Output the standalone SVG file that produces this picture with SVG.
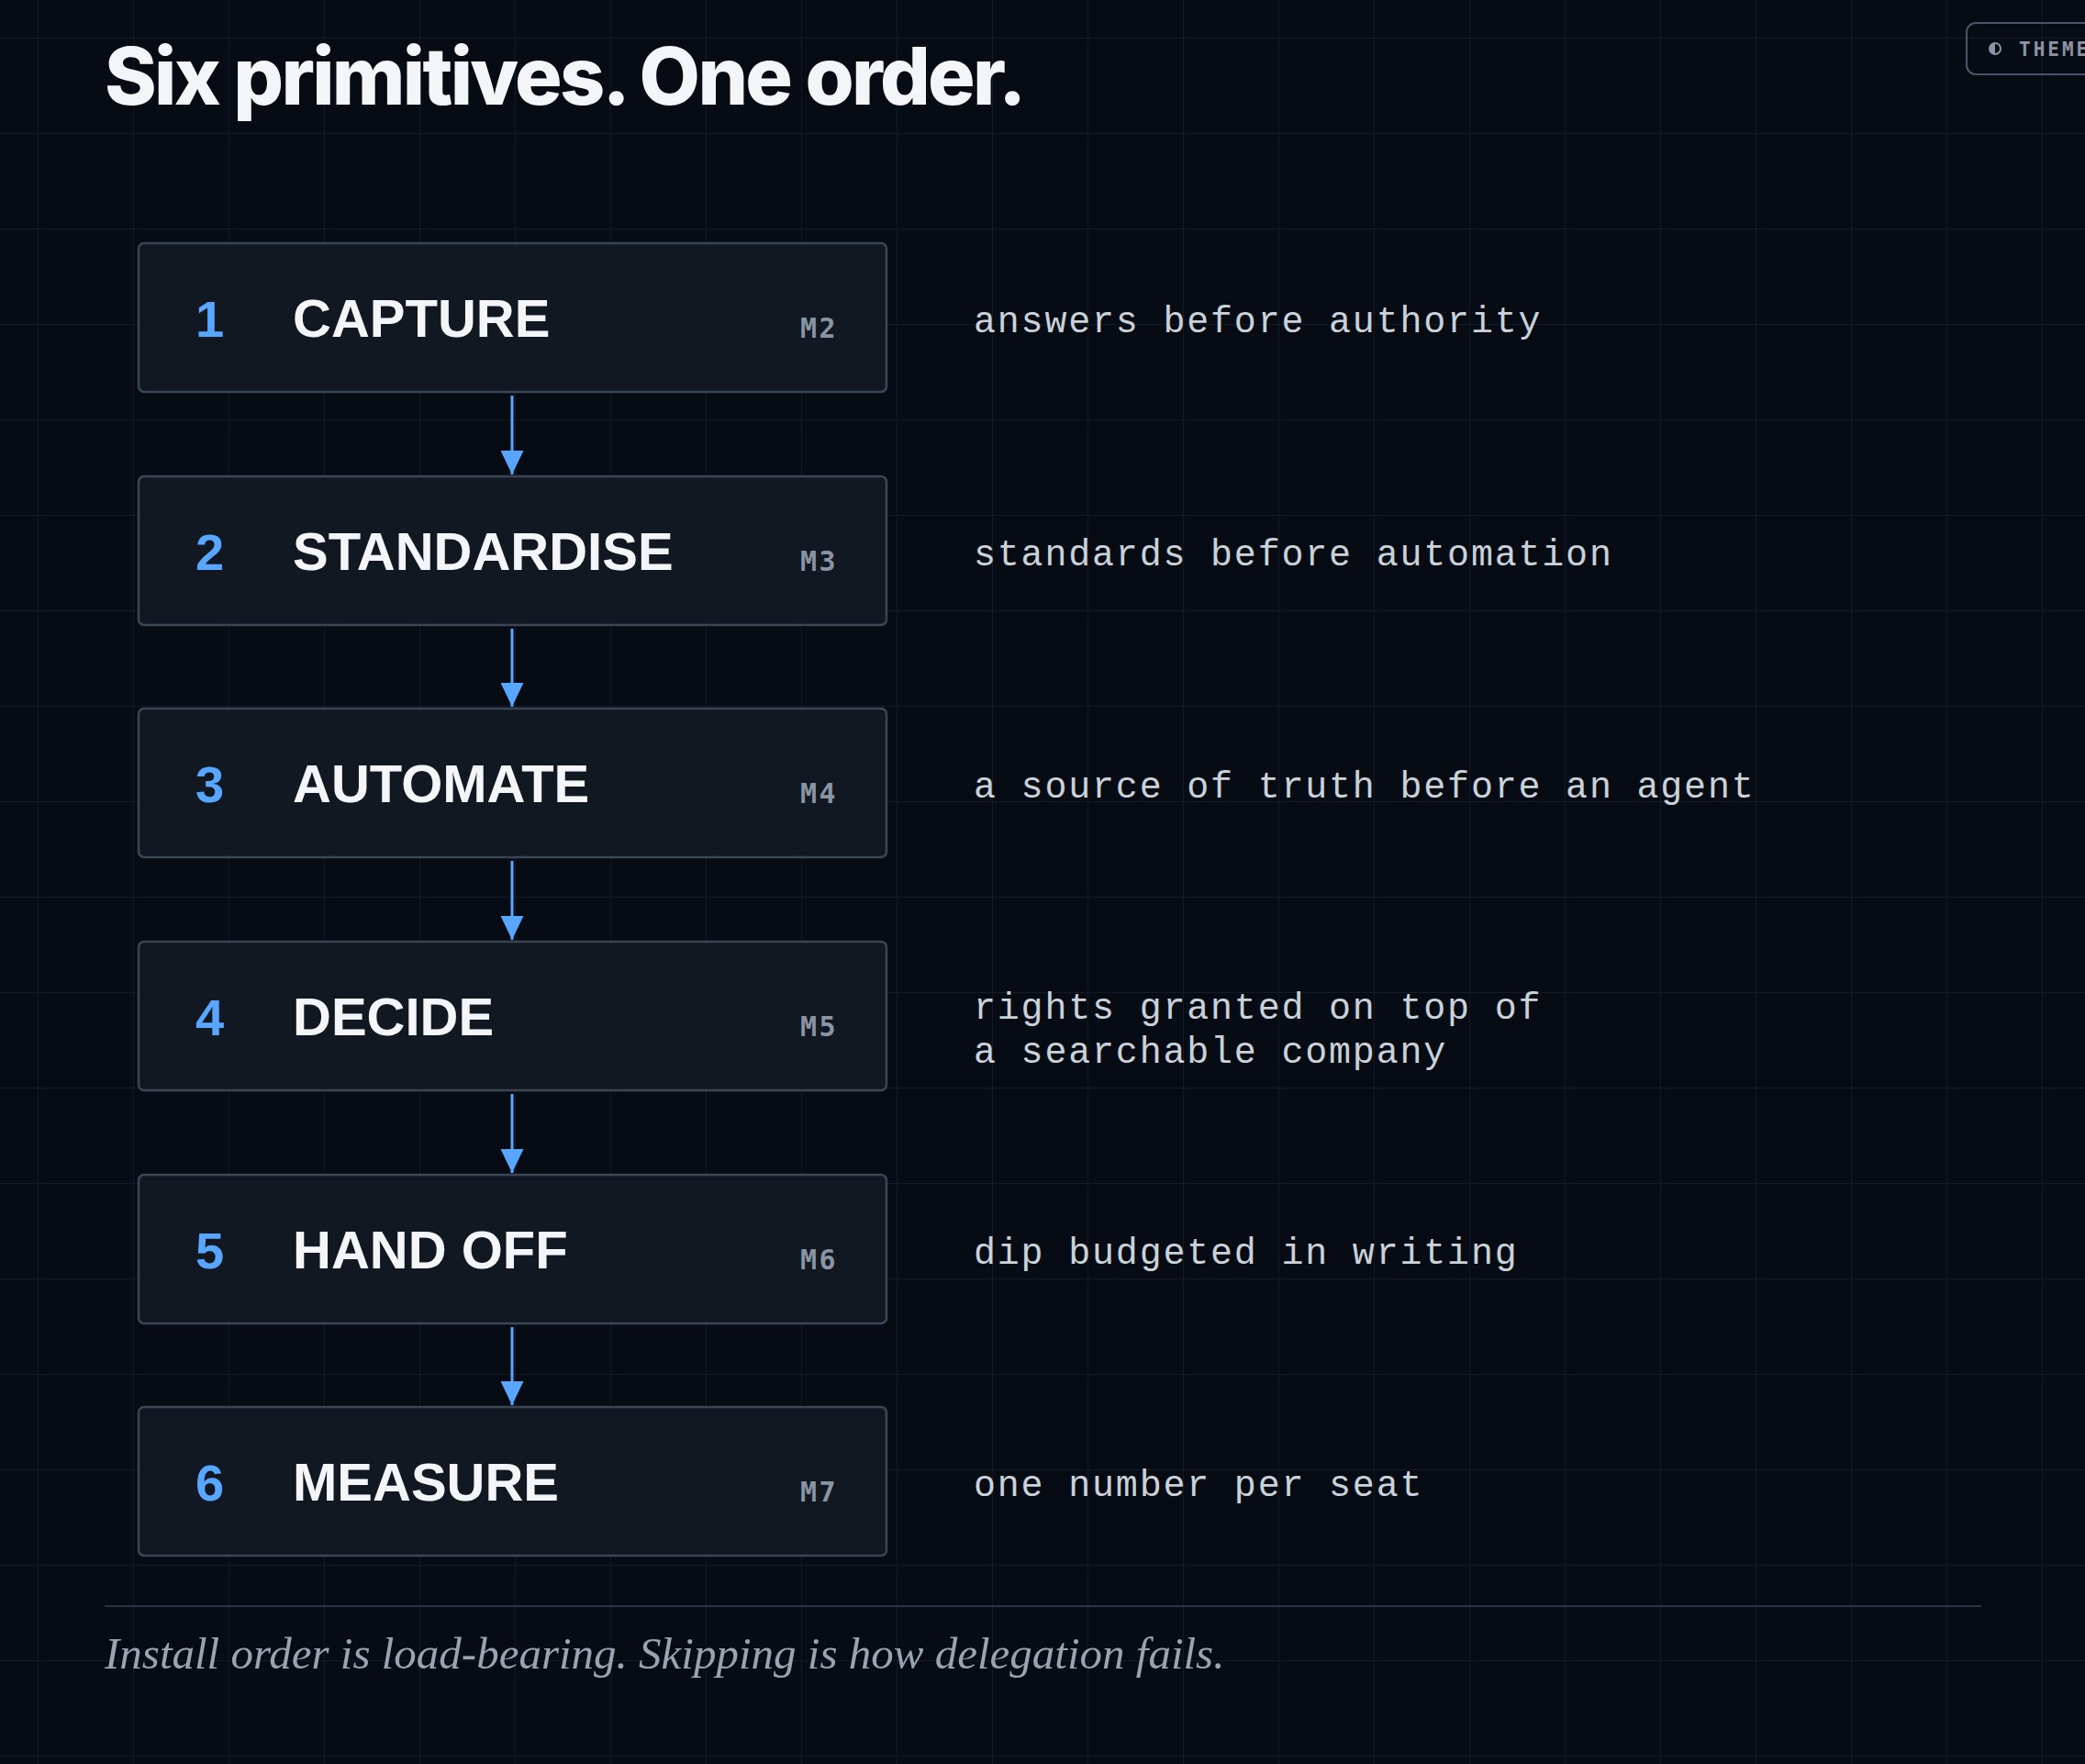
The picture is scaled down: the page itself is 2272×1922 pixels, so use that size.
<svg xmlns="http://www.w3.org/2000/svg" width="2272" height="1922" viewBox="0 0 2272 1922">
<defs>
<pattern id="grid" x="41" y="41" width="104" height="104" patternUnits="userSpaceOnUse">
<path d="M0 0H104M0 0V104" fill="none" stroke="#121a2a" stroke-width="2"/>
</pattern>
<marker id="ah" viewBox="0 0 26 25" refX="26" refY="12.5" markerWidth="26" markerHeight="25" markerUnits="userSpaceOnUse" orient="auto"><path d="M0 0L26 12.5L0 25Z" fill="#58a6ff"/></marker>
</defs>
<style>
.box{fill:#111822;stroke:#3a4656;stroke-width:2.5}
.num{font-family:"Liberation Sans",sans-serif;font-weight:700;font-size:56px;fill:#58a6ff}
.lbl{font-family:"Liberation Sans",sans-serif;font-weight:700;font-size:58px;fill:#f3f5f8}
.m{font-family:"DejaVu Sans Mono","Liberation Mono",monospace;font-weight:700;font-size:30px;fill:#8a94a3;letter-spacing:2.5px}
.d{font-family:"Liberation Mono","DejaVu Sans Mono",monospace;font-size:40px;fill:#c9d1d9;letter-spacing:1.8px}
.c{stroke:#58a6ff;stroke-width:3;fill:none}
</style>
<rect width="2272" height="1922" fill="#070c14"/>
<rect width="2272" height="1922" fill="url(#grid)"/>
<text x="114" y="114" font-family="Inter,'Liberation Sans',sans-serif" font-weight="800" font-size="86" fill="#f3f5f8" letter-spacing="-2.7">Six primitives. One order.</text>
<g id="theme"><rect x="2143" y="25" width="160" height="56" rx="10" fill="none" stroke="#4a5668" stroke-width="2"/><circle cx="2174" cy="53" r="6" fill="none" stroke="#8a94a3" stroke-width="2"/><path d="M2174 47a6 6 0 0 0 0 12Z" fill="#8a94a3"/><text x="2200" y="61" font-family="'DejaVu Sans Mono',monospace" font-weight="700" font-size="21" fill="#8a94a3" letter-spacing="3">THEME</text></g>
<g id="n1"><rect class="box" x="151" y="265" width="815" height="162" rx="6"/><text class="num" x="213" y="367">1</text><text class="lbl" x="319" y="367">CAPTURE</text><text class="m" x="872" y="368">M2</text><text class="d" x="1061" y="362">answers before authority</text></g>
<g id="n2"><rect class="box" x="151" y="519" width="815" height="162" rx="6"/><text class="num" x="213" y="621">2</text><text class="lbl" x="319" y="621">STANDARDISE</text><text class="m" x="872" y="622">M3</text><text class="d" x="1061" y="616">standards before automation</text></g>
<g id="n3"><rect class="box" x="151" y="772" width="815" height="162" rx="6"/><text class="num" x="213" y="874">3</text><text class="lbl" x="319" y="874">AUTOMATE</text><text class="m" x="872" y="875">M4</text><text class="d" x="1061" y="869">a source of truth before an agent</text></g>
<g id="n4"><rect class="box" x="151" y="1026" width="815" height="162" rx="6"/><text class="num" x="213" y="1128">4</text><text class="lbl" x="319" y="1128">DECIDE</text><text class="m" x="872" y="1129">M5</text><text class="d" x="1061" y="1110">rights granted on top of</text><text class="d" x="1061" y="1158">a searchable company</text></g>
<g id="n5"><rect class="box" x="151" y="1280" width="815" height="162" rx="6"/><text class="num" x="213" y="1382">5</text><text class="lbl" x="319" y="1382">HAND OFF</text><text class="m" x="872" y="1383">M6</text><text class="d" x="1061" y="1377">dip budgeted in writing</text></g>
<g id="n6"><rect class="box" x="151" y="1533" width="815" height="162" rx="6"/><text class="num" x="213" y="1635">6</text><text class="lbl" x="319" y="1635">MEASURE</text><text class="m" x="872" y="1636">M7</text><text class="d" x="1061" y="1630">one number per seat</text></g>
<g id="connectors">
<line class="c" x1="558" y1="431" x2="558" y2="517" marker-end="url(#ah)"/>
<line class="c" x1="558" y1="685" x2="558" y2="770" marker-end="url(#ah)"/>
<line class="c" x1="558" y1="938" x2="558" y2="1024" marker-end="url(#ah)"/>
<line class="c" x1="558" y1="1192" x2="558" y2="1278" marker-end="url(#ah)"/>
<line class="c" x1="558" y1="1446" x2="558" y2="1531" marker-end="url(#ah)"/>
</g>
<line x1="114" y1="1750" x2="2159" y2="1750" stroke="#2a3444" stroke-width="2"/>
<text x="114" y="1818" font-family="'Liberation Serif',serif" font-style="italic" font-size="49" fill="#9aa4b0">Install order is load-bearing. Skipping is how delegation fails.</text>
</svg>
